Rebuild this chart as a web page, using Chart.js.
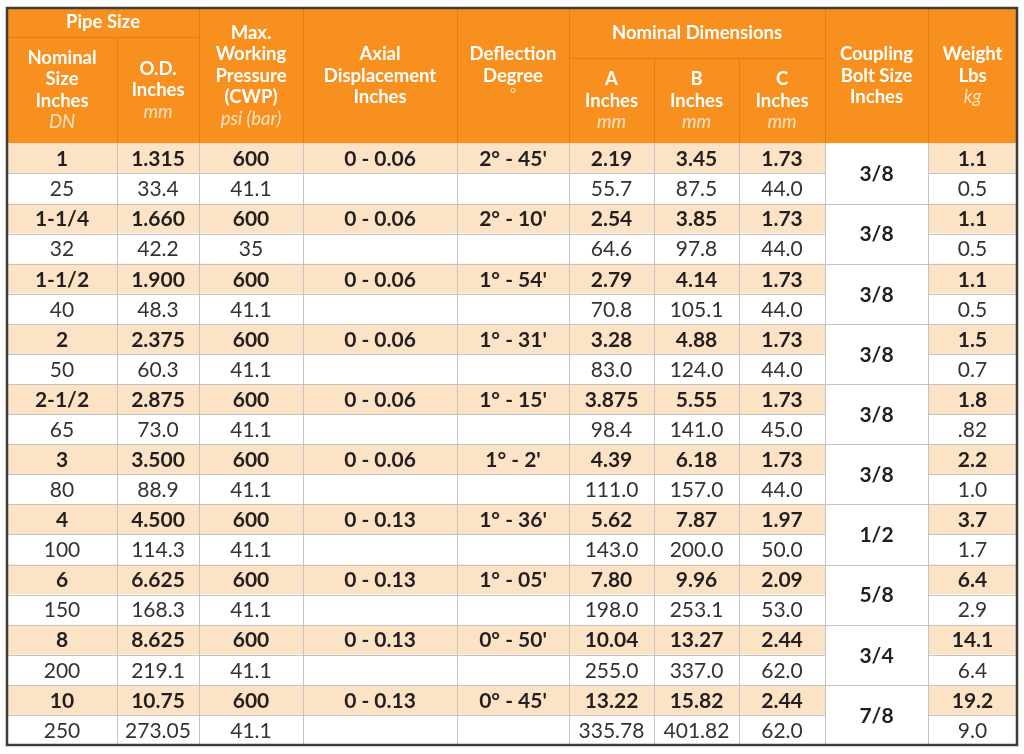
<!DOCTYPE html>
<html>
<head>
<meta charset="utf-8">
<style>
  html, body { margin: 0; padding: 0; background: #ffffff; }
  #wrap { width: 1024px; height: 754px; }
</style>
<script src="https://cdn.jsdelivr.net/npm/chart.js@4.4.1/dist/chart.umd.min.js"></script>
</head>
<body>
<div id="wrap"><canvas id="c" width="1024" height="754"></canvas></div>
<script>
// ---------- DATA ----------
const nominalSize = ['1', '1-1/4', '1-1/2', '2', '2-1/2', '3', '4', '6', '8', '10'];
const nominalDN   = ['25', '32', '40', '50', '65', '80', '100', '150', '200', '250'];
const odInches    = ['1.315', '1.660', '1.900', '2.375', '2.875', '3.500', '4.500', '6.625', '8.625', '10.75'];
const odMm        = ['33.4', '42.2', '48.3', '60.3', '73.0', '88.9', '114.3', '168.3', '219.1', '273.05'];
const pressurePsi = ['600', '600', '600', '600', '600', '600', '600', '600', '600', '600'];
const pressureBar = ['41.1', '35', '41.1', '41.1', '41.1', '41.1', '41.1', '41.1', '41.1', '41.1'];
const axialDisp   = ['0 - 0.06', '0 - 0.06', '0 - 0.06', '0 - 0.06', '0 - 0.06', '0 - 0.06', '0 - 0.13', '0 - 0.13', '0 - 0.13', '0 - 0.13'];
const deflection  = ["2° - 45'", "2° - 10'", "1° - 54'", "1° - 31'", "1° - 15'", "1° - 2'", "1° - 36'", "1° - 05'", "0° - 50'", "0° - 45'"];
const dimAInches  = ['2.19', '2.54', '2.79', '3.28', '3.875', '4.39', '5.62', '7.80', '10.04', '13.22'];
const dimAMm      = ['55.7', '64.6', '70.8', '83.0', '98.4', '111.0', '143.0', '198.0', '255.0', '335.78'];
const dimBInches  = ['3.45', '3.85', '4.14', '4.88', '5.55', '6.18', '7.87', '9.96', '13.27', '15.82'];
const dimBMm      = ['87.5', '97.8', '105.1', '124.0', '141.0', '157.0', '200.0', '253.1', '337.0', '401.82'];
const dimCInches  = ['1.73', '1.73', '1.73', '1.73', '1.73', '1.73', '1.97', '2.09', '2.44', '2.44'];
const dimCMm      = ['44.0', '44.0', '44.0', '44.0', '45.0', '44.0', '50.0', '53.0', '62.0', '62.0'];
const boltSize    = ['3/8', '3/8', '3/8', '3/8', '3/8', '3/8', '1/2', '5/8', '3/4', '7/8'];
const weightLbs   = ['1.1', '1.1', '1.1', '1.5', '1.8', '2.2', '3.7', '6.4', '14.1', '19.2'];
const weightKg    = ['0.5', '0.5', '0.5', '0.7', '.82', '1.0', '1.7', '2.9', '6.4', '9.0'];

// header texts
const groupPipe = 'Pipe Size';
const groupDims = 'Nominal Dimensions';
const headerLines = [
  [['Nominal', 'b'], ['Size', 'b'], ['Inches', 'b'], ['DN', 'i']],
  [['O.D.', 'b'], ['Inches', 'b'], ['mm', 'i']],
  [['Max.', 'b'], ['Working', 'b'], ['Pressure', 'b'], ['(CWP)', 'b'], ['psi (bar)', 'i']],
  [['Axial', 'b'], ['Displacement', 'b'], ['Inches', 'b']],
  [['Deflection', 'b'], ['Degree', 'b'], ['°', 'd']],
  [['A', 'b'], ['Inches', 'b'], ['mm', 'i']],
  [['B', 'b'], ['Inches', 'b'], ['mm', 'i']],
  [['C', 'b'], ['Inches', 'b'], ['mm', 'i']],
  [['Coupling', 'b'], ['Bolt Size', 'b'], ['Inches', 'b']],
  [['Weight', 'b'], ['Lbs', 'b'], ['kg', 'i']]
];

// column contents: [top (bold) values, bottom (regular) values]; null = empty; 'span' = spans both rows
const columns = [
  [nominalSize, nominalDN],
  [odInches, odMm],
  [pressurePsi, pressureBar],
  [axialDisp, null],
  [deflection, null],
  [dimAInches, dimAMm],
  [dimBInches, dimBMm],
  [dimCInches, dimCMm],
  [boltSize, 'span'],
  [weightLbs, weightKg]
];

// ---------- LAYOUT (styles / geometry, not data) ----------
const COL_EDGES = [0, 110, 192, 296, 450, 562, 647, 732, 818, 921, 1010];
const HEADER_TOP = -4.5;      // header occupies y in [-4.5, 0]
const PIPE_BAND = -3.54;      // bottom of "Pipe Size" band
const DIMS_BAND = -2.84;      // bottom of "Nominal Dimensions" band
const ORANGE = '#f7901e';
const ORANGE_LINE = '#e07f17';
const PEACH = '#fde3c6';
const GRID = '#c4c4c4';
const FONT = 'Lato, "Open Sans", sans-serif';
const HFONT = 18.5;
const DFONT = 21;

const tablePlugin = {
  id: 'tablePlugin',
  beforeDatasetsDraw(chart) {
    const ctx = chart.ctx;
    const xs = chart.scales.x, ys = chart.scales.y;
    const X = v => xs.getPixelForValue(v);
    const Y = v => ys.getPixelForValue(v);
    const nRows = nominalSize.length * 2;

    ctx.save();
    // header background
    ctx.fillStyle = ORANGE;
    ctx.fillRect(X(0), Y(HEADER_TOP), X(1010) - X(0), Y(0) - Y(HEADER_TOP));

    // data row backgrounds
    for (let r = 0; r < nRows; r++) {
      for (let c = 0; c < columns.length; c++) {
        const spanCol = columns[c][1] === 'span';
        ctx.fillStyle = (r % 2 === 0 && !spanCol) ? PEACH : '#ffffff';
        ctx.fillRect(X(COL_EDGES[c]), Y(r), X(COL_EDGES[c + 1]) - X(COL_EDGES[c]), Y(r + 1) - Y(r));
      }
    }

    // data grid lines
    ctx.strokeStyle = GRID;
    ctx.lineWidth = 1;
    ctx.beginPath();
    for (let c = 1; c < COL_EDGES.length - 1; c++) {
      const x = Math.round(X(COL_EDGES[c])) + 0.5;
      ctx.moveTo(x, Y(0)); ctx.lineTo(x, Y(nRows));
    }
    for (let r = 1; r < nRows; r++) {
      const y = Math.round(Y(r)) + 0.5;
      for (let c = 0; c < columns.length; c++) {
        if (columns[c][1] === 'span' && r % 2 === 1) continue;
        ctx.moveTo(X(COL_EDGES[c]), y); ctx.lineTo(X(COL_EDGES[c + 1]), y);
      }
    }
    ctx.stroke();

    // header lines
    ctx.strokeStyle = ORANGE_LINE;
    ctx.beginPath();
    for (let c = 1; c < COL_EDGES.length - 1; c++) {
      const x = Math.round(X(COL_EDGES[c])) + 0.5;
      let top = HEADER_TOP;
      if (c === 1) top = PIPE_BAND;
      if (c === 6 || c === 7) top = DIMS_BAND;
      ctx.moveTo(x, Y(top)); ctx.lineTo(x, Y(0));
    }
    let y = Math.round(Y(PIPE_BAND)) + 0.5;
    ctx.moveTo(X(COL_EDGES[0]), y); ctx.lineTo(X(COL_EDGES[2]), y);
    y = Math.round(Y(DIMS_BAND)) + 0.5;
    ctx.moveTo(X(COL_EDGES[5]), y); ctx.lineTo(X(COL_EDGES[8]), y);
    ctx.stroke();

    // header text
    ctx.textAlign = 'center';
    ctx.textBaseline = 'middle';
    const LH = 21.5;
    function drawLines(lines, cx, cy) {
      const n = lines.length;
      lines.forEach((ln, i) => {
        const [t, s] = ln;
        if (s === 'b') { ctx.font = 'bold ' + HFONT + 'px ' + FONT; ctx.fillStyle = '#ffffff'; }
        else if (s === 'i') { ctx.font = 'italic ' + HFONT + 'px ' + FONT; ctx.fillStyle = '#fde2c2'; }
        else { ctx.font = '15px ' + FONT; ctx.fillStyle = '#fde2c2'; }
        let yy = cy + (i - (n - 1) / 2) * LH;
        if (s === 'd') yy -= 3;
        ctx.fillText(t, cx, yy);
      });
    }
    ctx.font = 'bold ' + HFONT + 'px ' + FONT; ctx.fillStyle = '#ffffff';
    ctx.fillText(groupPipe, (X(COL_EDGES[0]) + X(COL_EDGES[2])) / 2, (Y(HEADER_TOP) + Y(PIPE_BAND)) / 2);
    ctx.fillText(groupDims, (X(COL_EDGES[5]) + X(COL_EDGES[8])) / 2, (Y(HEADER_TOP) + Y(DIMS_BAND)) / 2);
    headerLines.forEach((lines, c) => {
      let top = HEADER_TOP;
      if (c <= 1) top = PIPE_BAND;
      if (c >= 5 && c <= 7) top = DIMS_BAND;
      const cx = (X(COL_EDGES[c]) + X(COL_EDGES[c + 1])) / 2;
      const cy = (Y(top) + Y(0)) / 2;
      drawLines(lines, cx, cy);
    });

    // data text
    for (let i = 0; i < nominalSize.length; i++) {
      columns.forEach((col, c) => {
        const cx = (X(COL_EDGES[c]) + X(COL_EDGES[c + 1])) / 2;
        const [top, bottom] = col;
        ctx.font = 'bold ' + DFONT + 'px ' + FONT; ctx.fillStyle = '#231f20';
        if (bottom === 'span') {
          ctx.fillText(top[i], cx, Y(2 * i + 1) + 1);
        } else {
          ctx.fillText(top[i], cx, Y(2 * i + 0.5) + 1);
          if (bottom) {
            ctx.font = DFONT + 'px ' + FONT; ctx.fillStyle = '#333333';
            ctx.fillText(bottom[i], cx, Y(2 * i + 1.5) + 1);
          }
        }
      });
    }

    // outer border
    ctx.strokeStyle = '#3d3d3d';
    ctx.lineWidth = 2.5;
    ctx.strokeRect(X(0), Y(HEADER_TOP), X(1010) - X(0), Y(nRows) - Y(HEADER_TOP));
    ctx.restore();
  }
};

new Chart(document.getElementById('c'), {
  type: 'scatter',
  data: { datasets: [{ data: [] }] },
  options: {
    responsive: false,
    animation: false,
    events: [],
    layout: { padding: { top: 8, left: 7, right: 7, bottom: 9 } },
    plugins: { legend: { display: false }, tooltip: { enabled: false } },
    scales: {
      x: { type: 'linear', min: 0, max: 1010, display: false },
      y: { type: 'linear', min: HEADER_TOP, max: 20, reverse: true, display: false }
    }
  },
  plugins: [tablePlugin]
});
</script>
</body>
</html>
